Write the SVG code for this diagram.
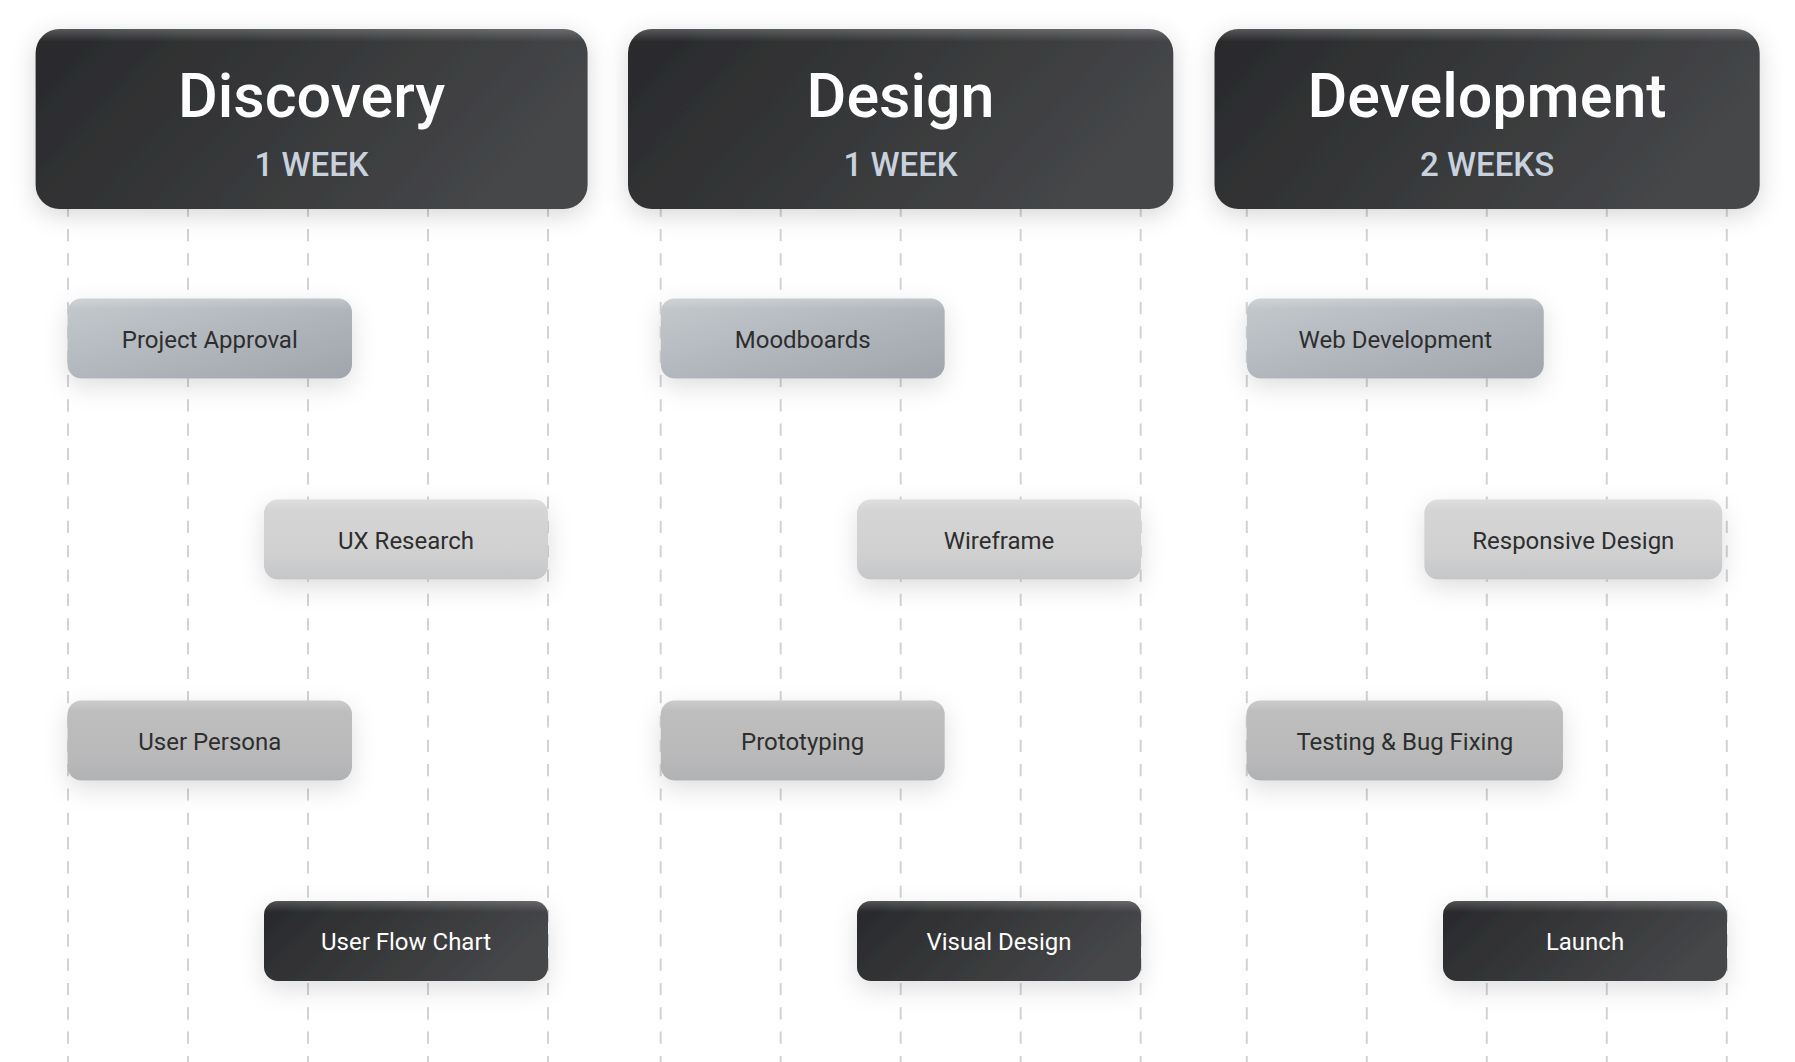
<svg xmlns="http://www.w3.org/2000/svg" width="1795" height="1062" viewBox="0 0 1795 1062">
  <defs>
    <linearGradient id="gDark" x1="0" y1="0" x2="1" y2="0.3">
      <stop offset="0" stop-color="#28292b"/>
      <stop offset="1" stop-color="#454648"/>
    </linearGradient>
    <linearGradient id="gBlue" x1="0" y1="0" x2="1" y2="1">
      <stop offset="0" stop-color="#c4c9cd"/>
      <stop offset="1" stop-color="#a0a5ad"/>
    </linearGradient>
    <linearGradient id="gLight" x1="0" y1="0" x2="0" y2="1">
      <stop offset="0" stop-color="#d6d6d6"/>
      <stop offset="0.7" stop-color="#d0d0d1"/>
      <stop offset="1" stop-color="#c5c6c8"/>
    </linearGradient>
    <linearGradient id="gMid" x1="0" y1="0" x2="0" y2="1">
      <stop offset="0" stop-color="#bfbfbf"/>
      <stop offset="0.7" stop-color="#b9b9ba"/>
      <stop offset="1" stop-color="#b1b2b4"/>
    </linearGradient>
    <linearGradient id="hiHead" x1="0" y1="0" x2="0" y2="1">
      <stop offset="0" stop-color="#ffffff" stop-opacity="0.22"/>
      <stop offset="0.07" stop-color="#ffffff" stop-opacity="0"/>
    </linearGradient>
    <linearGradient id="hiNode" x1="0" y1="0" x2="0" y2="1">
      <stop offset="0" stop-color="#ffffff" stop-opacity="0.2"/>
      <stop offset="0.14" stop-color="#ffffff" stop-opacity="0"/>
    </linearGradient>
    <filter id="shHead" x="-10%" y="-30%" width="120%" height="160%">
      <feDropShadow dx="0" dy="6" stdDeviation="12" flood-color="#000" flood-opacity="0.16"/>
    </filter>
    <filter id="shNode" x="-20%" y="-50%" width="140%" height="220%">
      <feDropShadow dx="0" dy="8" stdDeviation="12" flood-color="#000" flood-opacity="0.13"/>
    </filter>
  </defs>
  <style>
    .grid line { stroke: #d3d3d3; stroke-width: 2; stroke-dasharray: 12.16 12.16; }
    .title { font-family: Roboto, "Liberation Sans", sans-serif; font-weight: 500; font-size: 61px; fill: #ffffff; text-anchor: middle; }
    .sub { font-family: Roboto, "Liberation Sans", sans-serif; font-weight: 500; font-size: 33px; fill: #c8d2de; text-anchor: middle; }
    .lbl { font-family: Roboto, "Liberation Sans", sans-serif; font-size: 24px; fill: #2e2e2e; text-anchor: middle; }
    .lbl.w { fill: #ffffff; }
    .head rect.b { fill: url(#gDark); filter: url(#shHead); }
    .head rect.h { fill: url(#hiHead); }
    .node rect.b { filter: url(#shNode); }
    .node rect.h { fill: url(#hiNode); }
    .r1 rect.b { fill: url(#gBlue); }
    .r2 rect.b { fill: url(#gLight); }
    .r3 rect.b { fill: url(#gMid); }
    .r4 rect.b { fill: url(#gDark); }
  </style>
  <rect width="1795" height="1062" fill="#ffffff"/>

  <g id="connectors" class="grid">
    <line x1="68" y1="204.7" x2="68" y2="1062"/>
    <line x1="188" y1="204.7" x2="188" y2="1062"/>
    <line x1="308" y1="204.7" x2="308" y2="1062"/>
    <line x1="428" y1="204.7" x2="428" y2="1062"/>
    <line x1="548" y1="204.7" x2="548" y2="1062"/>
    <line x1="660.7" y1="204.7" x2="660.7" y2="1062"/>
    <line x1="780.7" y1="204.7" x2="780.7" y2="1062"/>
    <line x1="900.7" y1="204.7" x2="900.7" y2="1062"/>
    <line x1="1020.7" y1="204.7" x2="1020.7" y2="1062"/>
    <line x1="1140.7" y1="204.7" x2="1140.7" y2="1062"/>
    <line x1="1246.8" y1="204.7" x2="1246.8" y2="1062"/>
    <line x1="1366.8" y1="204.7" x2="1366.8" y2="1062"/>
    <line x1="1486.8" y1="204.7" x2="1486.8" y2="1062"/>
    <line x1="1606.8" y1="204.7" x2="1606.8" y2="1062"/>
    <line x1="1726.8" y1="204.7" x2="1726.8" y2="1062"/>
  </g>

  <g id="header-discovery" class="head">
    <rect class="b" x="35.6" y="29" width="552" height="180" rx="24"/>
    <rect class="h" x="35.6" y="29" width="552" height="180" rx="24"/>
    <text class="title" x="311.6" y="117.3">Discovery</text>
    <text class="sub" x="311.6" y="176">1 WEEK</text>
  </g>
  <g id="header-design" class="head">
    <rect class="b" x="628" y="29" width="545.3" height="180" rx="24"/>
    <rect class="h" x="628" y="29" width="545.3" height="180" rx="24"/>
    <text class="title" x="900.6" y="117.3">Design</text>
    <text class="sub" x="900.6" y="176">1 WEEK</text>
  </g>
  <g id="header-development" class="head">
    <rect class="b" x="1214.5" y="29" width="545.2" height="180" rx="24"/>
    <rect class="h" x="1214.5" y="29" width="545.2" height="180" rx="24"/>
    <text class="title" x="1487.1" y="117.3">Development</text>
    <text class="sub" x="1487.1" y="176">2 WEEKS</text>
  </g>

  <g id="node-project-approval" class="node r1">
    <rect class="b" x="67.5" y="298.5" width="284.5" height="80" rx="14"/>
    <rect class="h" x="67.5" y="298.5" width="284.5" height="80" rx="14"/>
    <text class="lbl" x="209.8" y="347.5">Project Approval</text>
  </g>
  <g id="node-ux-research" class="node r2">
    <rect class="b" x="264" y="499.5" width="284" height="80" rx="14"/>
    <rect class="h" x="264" y="499.5" width="284" height="80" rx="14"/>
    <text class="lbl" x="406" y="548.5">UX Research</text>
  </g>
  <g id="node-user-persona" class="node r3">
    <rect class="b" x="67.5" y="700.5" width="284.5" height="80" rx="14"/>
    <rect class="h" x="67.5" y="700.5" width="284.5" height="80" rx="14"/>
    <text class="lbl" x="209.8" y="749.5">User Persona</text>
  </g>
  <g id="node-user-flow-chart" class="node r4">
    <rect class="b" x="264" y="901" width="284" height="80" rx="14"/>
    <rect class="h" x="264" y="901" width="284" height="80" rx="14"/>
    <text class="lbl w" x="406" y="950">User Flow Chart</text>
  </g>

  <g id="node-moodboards" class="node r1">
    <rect class="b" x="660.7" y="298.5" width="284" height="80" rx="14"/>
    <rect class="h" x="660.7" y="298.5" width="284" height="80" rx="14"/>
    <text class="lbl" x="802.7" y="347.5">Moodboards</text>
  </g>
  <g id="node-wireframe" class="node r2">
    <rect class="b" x="857" y="499.5" width="284" height="80" rx="14"/>
    <rect class="h" x="857" y="499.5" width="284" height="80" rx="14"/>
    <text class="lbl" x="999" y="548.5">Wireframe</text>
  </g>
  <g id="node-prototyping" class="node r3">
    <rect class="b" x="660.7" y="700.5" width="284" height="80" rx="14"/>
    <rect class="h" x="660.7" y="700.5" width="284" height="80" rx="14"/>
    <text class="lbl" x="802.7" y="749.5">Prototyping</text>
  </g>
  <g id="node-visual-design" class="node r4">
    <rect class="b" x="857" y="901" width="284" height="80" rx="14"/>
    <rect class="h" x="857" y="901" width="284" height="80" rx="14"/>
    <text class="lbl w" x="999" y="950">Visual Design</text>
  </g>

  <g id="node-web-development" class="node r1">
    <rect class="b" x="1246.8" y="298.5" width="297" height="80" rx="14"/>
    <rect class="h" x="1246.8" y="298.5" width="297" height="80" rx="14"/>
    <text class="lbl" x="1395.3" y="347.5">Web Development</text>
  </g>
  <g id="node-responsive-design" class="node r2">
    <rect class="b" x="1424.3" y="499.5" width="298" height="80" rx="14"/>
    <rect class="h" x="1424.3" y="499.5" width="298" height="80" rx="14"/>
    <text class="lbl" x="1573.3" y="548.5">Responsive Design</text>
  </g>
  <g id="node-testing-bug-fixing" class="node r3">
    <rect class="b" x="1246.5" y="700.5" width="316.5" height="80" rx="14"/>
    <rect class="h" x="1246.5" y="700.5" width="316.5" height="80" rx="14"/>
    <text class="lbl" x="1404.8" y="749.5">Testing &amp; Bug Fixing</text>
  </g>
  <g id="node-launch" class="node r4">
    <rect class="b" x="1443" y="901" width="284" height="80" rx="14"/>
    <rect class="h" x="1443" y="901" width="284" height="80" rx="14"/>
    <text class="lbl w" x="1585" y="950">Launch</text>
  </g>
</svg>
